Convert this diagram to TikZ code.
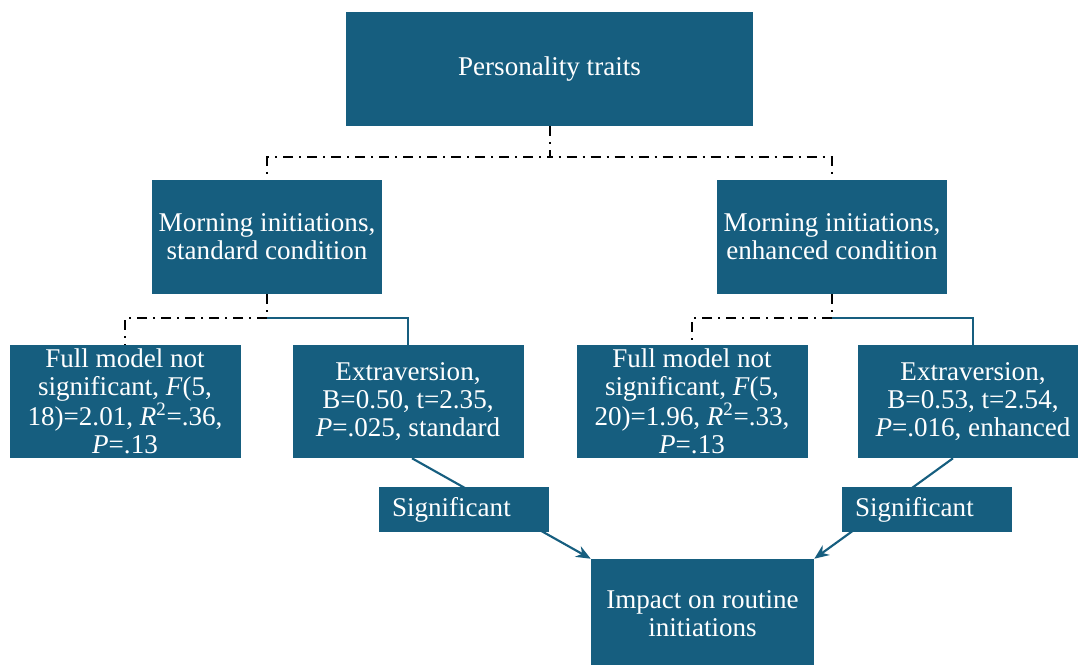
\documentclass[tikz,border=0pt]{standalone}
\usepackage{fontspec}
\setmainfont{Liberation Serif}
\usepackage{xcolor}
\usetikzlibrary{arrows.meta, positioning}

\definecolor{boxteal}{RGB}{22,94,127}

\begin{document}
\begin{tikzpicture}[x=0.75pt, y=-0.75pt,
  box/.style={fill=boxteal, text=white, align=center, inner sep=0pt,
    font=\fontsize{20.3}{21}\selectfont},
  sigbox/.style={fill=boxteal, text=white, align=left, inner xsep=9.75pt, inner ysep=0pt,
    text width=108pt, minimum height=33.75pt, font=\fontsize{20.3}{21}\selectfont},
  dashdot/.style={black, line width=1.5pt, dash pattern=on 7.5pt off 4.5pt on 1.5pt off 4.5pt},
  link/.style={boxteal, line width=1.6pt},
  arrow/.style={-{Stealth[length=11pt, width=9pt]}, boxteal, line width=1.6pt}]
  \clip (0,0) rectangle (1078,664);

  % Top of the tree
  \node[box, minimum width=305.25pt, minimum height=85.5pt] (pers) at (549.5,69) {Personality traits};

  % Conditions
  \node[box, minimum width=172.5pt, minimum height=85.5pt] (mstd) at (267,237) {Morning initiations,\\ standard condition};
  \node[box, minimum width=172.5pt, minimum height=85.5pt] (menh) at (832,237) {Morning initiations,\\ enhanced condition};

  % Model results
  \node[box, minimum width=173.25pt, minimum height=84.75pt] (fulll) at (125,401.5)
    {Full model not\\ significant, \textit{F}(5,\\ 18)=2.01, \textit{R}\textsuperscript{2}=.36,\\ \textit{P}=.13};
  \node[box, minimum width=173.25pt, minimum height=84.75pt] (extl) at (408,401.5)
    {Extraversion,\\ B=0.50, t=2.35,\\ \textit{P}=.025, standard};
  \node[box, minimum width=173.25pt, minimum height=84.75pt] (fullr) at (692,401.5)
    {Full model not\\ significant, \textit{F}(5,\\ 20)=1.96, \textit{R}\textsuperscript{2}=.33,\\ \textit{P}=.13};
  \node[box, minimum width=173.25pt, minimum height=84.75pt] (extr) at (973,401.5)
    {Extraversion,\\ B=0.53, t=2.54,\\ \textit{P}=.016, enhanced};

  % Outcome
  \node[box, minimum width=167.25pt, minimum height=82.5pt] (imp) at (702.5,614)
    {Impact on routine\\ initiations};

  % Tree connectors
  \draw[dashdot] (pers.south) -- ++(0,31) -| (mstd.north);
  \draw[dashdot] (pers.south) -- ++(0,31) -| (menh.north);
  \draw[dashdot] (mstd.south) -- ++(0,24) -| (fulll.north);
  \draw[link] (mstd.south) ++(0,24) -| (extl.north);
  \draw[dashdot] (menh.south) -- ++(0,24) -| (fullr.north);
  \draw[link] (menh.south) ++(0,24) -| (extr.north);

  % Arrows to the outcome
  \draw[arrow] ([xshift=3pt]extl.south) -- (imp.north west);
  \draw[arrow] ([xshift=-15pt]extr.south) -- (imp.north east);

  % Labels on the arrows
  \node[sigbox] (sigl) at (464,509.5) {Significant};
  \node[sigbox] (sigr) at (927,509.5) {Significant};
\end{tikzpicture}
\end{document}
